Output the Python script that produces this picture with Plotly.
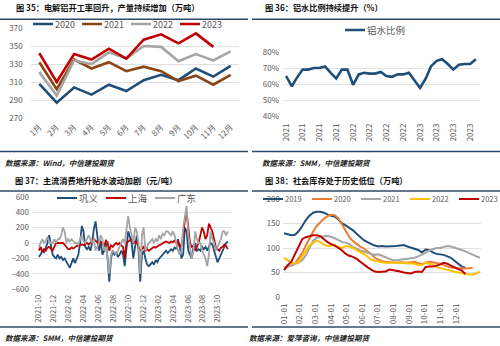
import plotly.graph_objects as go
import pandas as pd

W, H = 500, 346
FONT = "Noto Sans CJK SC"
TICK = "#595959"
GRID = "#D9D9D9"
RULE = "#2E4A6B"

# ---------------- 图35 data ----------------
MONTHS = ["1月", "2月", "3月", "4月", "5月", "6月", "7月", "8月", "9月", "10月", "11月", "12月"]
P35_2020 = [308, 287, 304, 296, 307, 300, 312, 318, 312, 325, 316, 328]
P35_2021 = [332, 302, 335, 325, 332, 322, 327, 322, 311, 317, 307, 318]
P35_2022 = [321, 295, 334, 330, 343, 336, 350, 349, 333, 341, 334, 344]
P35_2023 = [342, 310, 341, 335, 347, 336, 357, 363, 353, 364, 349]

# ---------------- 图36 data ----------------
P36_START = "2021-01-01"
P36_RATIO = [65, 58.5, 64, 69, 69, 70, 70, 71, 67, 63.5, 69, 69,
             59.5, 66, 67, 66.5, 66.5, 67.5, 65, 64.5, 66, 66, 67, 62.5,
             57.5, 63.5, 71, 74.5, 75.5, 72.5, 69, 72, 72.5, 72.5, 75.5]

# ---------------- 图37 data (weekly) ----------------
P37_START = "2021-10-01"
P37_GY = [-180, -150, -100, -120, -60, 0, 100, -50, -150, -180, -200, -150, -200, -180, -220, -200,
          -250, -280, -320, -250, -200, -260, -200, -150, 0, 220, 150, -50, -80, -50, -100, 0,
          180, 280, 100, -100, 20, -150, -100, 0, -200, -500, -200, -100, -150, -120, -180, -150,
          -100, -150, -300, -100, 150, 80, 0, -200, -50, 100, -100, -500, -150, -100, -200, -280,
          -300, -280, -250, -280, -220, -250, -200, -180, -150, -120, -100, -130, -100, -80, -100, -60,
          -80, 50, -50, -200, -150, 200, 150, -100, -150, -200, -50, 0, -100, -80, -100, -50,
          -80, -50, -100, -50, 0, -20, -100, -200, -250, -200, -150, -100, -50, 0, 20]
P37_SH = [-100, -50, -120, -80, -100, -60, -50, -80, -100, -50, 0, 0, 0, 0, 0, -20,
          -50, -80, -80, -60, -70, -50, -40, -30, -20, -20, -30, -20, 0, -20, 0, 20,
          50, 30, 0, -20, 20, 0, -50, 30, 10, -100, -30, -50, -20, 0, -20, 0,
          -30, -50, -200, 0, 20, 40, 50, 0, 20, 10, -50, -100, -80, -50, -100, -80,
          -100, -80, -70, -50, -60, -40, -30, -20, 0, 10, 20, 10, 0, 20, 10, 30,
          0, 20, -50, -20, 100, 300, 400, 200, 0, -50, -30, -100, -50, 0, 100, 200,
          150, 50, 100, 250, 200, 150, 50, -50, -80, -100, -60, -50, -20, -40, -80]
P37_GD = [-50, 0, 50, 0, 30, 80, 20, 0, 0, 50, 0, 50, 50, 100, 200, 150,
          0, 50, 20, 50, 20, 0, 0, -20, 50, 100, 20, 0, 50, 100, 50, 0,
          50, -100, -50, 0, 100, 50, -100, -50, -200, -400, -150, -100, -120, -150, -100, -50,
          0, 50, 0, 200, 350, 200, 100, 0, 200, 150, 0, -400, 100, 200, -100, -50,
          0, 20, 50, 0, 50, 20, 100, 50, 120, 100, 150, 150, 120, 100, 150, 100,
          0, -100, -150, -100, 200, 350, 480, 100, -50, -200, -100, 150, 50, 0, 0, -100,
          -150, -200, -300, -150, 150, 50, 0, -100, -50, 0, 50, 150, 150, 100, 150]

# ---------------- 图38 data (weekly, by week of year) ----------------
MD_LABELS = ["01-01", "02-01", "03-01", "04-01", "05-01", "06-01",
             "07-01", "08-01", "09-01", "10-01", "11-01", "12-01"]
WEEKS_PER_MONTH = 4.31
P38_2019 = [130, 128, 126, 127, 134, 145, 157, 166, 172, 174, 174, 172, 168, 166, 164, 158,
            150, 146, 141, 136, 129, 123, 116, 112, 108, 105, 103, 104, 103, 103, 104, 104,
            105, 106, 103, 101, 99, 96, 91, 97, 96, 91, 88, 87, 86, 83, 80, 74, 67, 62, 60]
P38_2020 = [60, 62, 64, 68, 78, 90, 105, 120, 133, 145, 153, 160, 165, 168, 167, 160,
            148, 135, 122, 114, 108, 103, 99, 94, 88, 80, 76, 73, 72, 71, 70, 70,
            71, 70, 70, 71, 72, 69, 67, 70, 72, 71, 70, 68, 65, 62, 60, 59, 58, 58, 58, 59, 59]
P38_2021 = [60, 62, 64, 67, 70, 75, 85, 100, 115, 121, 123, 124, 125, 123, 120, 116,
            112, 111, 108, 102, 98, 95, 93, 91, 88, 86, 87, 84, 80, 77, 75, 75,
            76, 76, 77, 78, 80, 83, 86, 90, 95, 98, 100, 100, 102, 104, 103, 101,
            99, 96, 93, 90, 87, 83, 80]
P38_2022 = [80, 75, 70, 68, 72, 82, 95, 105, 110, 115, 112, 107, 104, 105, 106, 102,
            100, 104, 103, 100, 95, 92, 88, 82, 76, 74, 72, 71, 70, 70, 70, 70,
            71, 70, 69, 68, 68, 65, 66, 70, 68, 66, 61, 59, 57, 55, 53, 51, 50, 49,
            47, 46, 46, 48, 51]
P38_2023 = [55, 65, 72, 88, 105, 118, 122, 124, 126, 126, 124, 118, 112, 108, 105, 100,
            95, 88, 84, 82, 78, 72, 66, 61, 56, 52, 51, 52, 52, 56, 55, 54,
            52, 50, 49, 48, 51, 52, 51, 61, 62, 62, 64, 66, 70, 68, 64, 61, 58, 54, 47]


def xdom(a, b):
    return [a / W, b / W]


def ydom(top, bottom):
    return [1 - bottom / H, 1 - top / H]


fig = go.Figure()

# ---- 图35 traces
for name, vals, col in [("2020", P35_2020, "#1F4E79"), ("2021", P35_2021, "#8B4513"),
                        ("2022", P35_2022, "#A5A5A5"), ("2023", P35_2023, "#C00000")]:
    fig.add_trace(go.Scatter(x=MONTHS[:len(vals)], y=vals, name=name, mode="lines",
                             line=dict(color=col, width=2.6), xaxis="x", yaxis="y",
                             legend="legend"))

# ---- 图36 trace
d36 = pd.date_range(P36_START, periods=len(P36_RATIO), freq="MS")
fig.add_trace(go.Scatter(x=d36, y=P36_RATIO, name="铝水比例", mode="lines",
                         line=dict(color="#1F4E79", width=2.6), xaxis="x2", yaxis="y2",
                         legend="legend2"))

# ---- 图37 traces
d37 = pd.date_range(P37_START, periods=len(P37_GY), freq="7D")
for name, vals, col in [("巩义", P37_GY, "#1F4E79"), ("上海", P37_SH, "#C00000"),
                        ("广东", P37_GD, "#A5A5A5")]:
    fig.add_trace(go.Scatter(x=d37[:len(vals)], y=vals, name=name, mode="lines",
                             line=dict(color=col, width=1.8), xaxis="x3", yaxis="y3",
                             legend="legend3"))

# ---- 图38 traces
for name, vals, col in [("2019", P38_2019, "#1F4E79"), ("2020", P38_2020, "#ED7D31"),
                        ("2021", P38_2021, "#A5A5A5"), ("2022", P38_2022, "#FFC000"),
                        ("2023", P38_2023, "#C00000")]:
    fig.add_trace(go.Scatter(x=list(range(len(vals))), y=vals, name=name, mode="lines",
                             line=dict(color=col, width=2), xaxis="x4", yaxis="y4",
                             legend="legend4"))

tickfont = dict(family=FONT, size=8, color=TICK)
common_x = dict(showgrid=False, zeroline=False, showline=False, ticks="", tickfont=tickfont,
                fixedrange=True, automargin=False)
common_y = dict(showgrid=True, gridcolor=GRID, gridwidth=0.8, zeroline=False, showline=False,
                ticks="", tickfont=tickfont, fixedrange=True, automargin=False)

leg_common = dict(orientation="h", bgcolor="rgba(0,0,0,0)", borderwidth=0,
                  xanchor="left", yanchor="middle", itemwidth=30, traceorder="normal")

# legend x = (line-sample start in px) - 18, since the sample is drawn 18px into each entry
fig.update_layout(
    width=W, height=H, margin=dict(l=0, r=0, t=0, b=0, pad=0, autoexpand=False),
    paper_bgcolor="white", plot_bgcolor="white",
    font=dict(family=FONT, color=TICK),
    xaxis=dict(common_x, domain=xdom(30.6, 239.4), anchor="y", type="category",
               categoryorder="array", categoryarray=MONTHS,
               range=[-0.5, 11.5], tickangle=-45, ticklabelstandoff=2),
    yaxis=dict(common_y, domain=ydom(28, 118), anchor="x", range=[270, 370], dtick=20,
               tick0=270, ticklabelstandoff=7),
    xaxis2=dict(common_x, domain=xdom(283, 479), anchor="y2", type="date",
                range=["2020-12-15", "2023-11-18"], dtick="M3", tick0="2021-01-01",
                tickformat="%Y", tickangle=-90, ticklabelstandoff=5),
    yaxis2=dict(common_y, domain=ydom(52, 116), anchor="x2", range=[40, 80], dtick=10,
                ticksuffix="%", ticklabelstandoff=3),
    xaxis3=dict(common_x, domain=xdom(32, 232), anchor="y3", type="date",
                range=["2021-09-03", "2023-11-27"], dtick="M2", tick0="2021-10-01",
                tickformat="%Y-%m", tickangle=-90, ticklabelstandoff=3,
                tickfont=dict(family=FONT, size=7.5, color=TICK)),
    yaxis3=dict(common_y, domain=ydom(196.7, 289.3), anchor="x3", range=[-600, 600], dtick=200,
                ticklabelstandoff=2),
    xaxis4=dict(common_x, domain=xdom(283, 481), anchor="y4", range=[-0.3, 54.3],
                tickvals=[i * WEEKS_PER_MONTH for i in range(len(MD_LABELS))],
                ticktext=MD_LABELS, tickangle=-90, ticklabelstandoff=4),
    yaxis4=dict(common_y, domain=ydom(199, 297), anchor="x4", range=[0, 200], dtick=50,
                ticklabelstandoff=2),
    legend=dict(leg_common, x=15 / W, y=1 - 24 / H, font=dict(family=FONT, size=9, color=TICK)),
    legend2=dict(leg_common, x=327 / W, y=1 - 30 / H, font=dict(family=FONT, size=9.5, color=TICK)),
    legend3=dict(leg_common, x=39 / W, y=1 - 198 / H, font=dict(family=FONT, size=9.5, color=TICK)),
    legend4=dict(leg_common, x=245 / W, y=1 - 199 / H, font=dict(family=FONT, size=7.5, color=TICK)),
    showlegend=True,
)

# ---- titles, sources and rules
titles = [
    ("图 35：电解铝开工率回升，产量持续增加（万吨）", 14, 7),
    ("图 36：铝水比例持续提升（%）", 263, 7),
    ("图 37：主流消费地升贴水波动加剧（元/吨）", 13, 180),
    ("图 38：社会库存处于历史低位（万吨）", 263, 180),
]
for txt, x, y in titles:
    fig.add_annotation(text="<b>" + txt + "</b>", x=x / W, y=1 - y / H, xref="paper", yref="paper",
                       xanchor="left", yanchor="middle", showarrow=False,
                       font=dict(family=FONT, size=8.2, color="#111111"))

sources = [
    ("数据来源：Wind，中信建投期货", 3, 162),
    ("数据来源：SMM，中信建投期货", 260, 162),
    ("数据来源：SMM，中信建投期货", 3, 337),
    ("数据来源：爱萍咨询，中信建投期货", 247, 337),
]
for txt, x, y in sources:
    fig.add_annotation(text="<b><i>" + txt + "</i></b>", x=x / W, y=1 - y / H, xref="paper",
                       yref="paper", xanchor="left", yanchor="middle", showarrow=False,
                       font=dict(family=FONT, size=7.5, color="#222222"))

for y in [19.3, 151.5, 191, 327]:
    for a, b in [(0, 248), (252, 500)]:
        fig.add_shape(type="line", xref="paper", yref="paper", x0=a / W, x1=b / W,
                      y0=1 - y / H, y1=1 - y / H, line=dict(color=RULE, width=1.5))

# Compact legend entries (short line sample right before the text, tight spacing).
post_js = """
var gd = document.getElementById('{plot_id}');
function fixLegends(){
  try {
    gd.querySelectorAll('g.infolayer > g').forEach(function(lg){
      var cls = lg.getAttribute('class') || '';
      if (cls.indexOf('legend') !== 0) return;
      var x = null;
      lg.querySelectorAll('g.traces').forEach(function(tr){
        var tf = tr.getAttribute('transform') || '';
        var m = /translate\\(\\s*([-0-9.e]+)[ ,]+([-0-9.e]+)\\s*\\)/.exec(tf);
        var y = m ? parseFloat(m[2]) : 0;
        if (x === null) { x = m ? parseFloat(m[1]) : 0; }
        var t = tr.querySelector('text.legendtext');
        var tx = 40, w = 20;
        if (t) { try { var bb = t.getBBox(); tx = bb.x; w = bb.width; } catch(e) {} }
        var ls = tx - 22;
        tr.setAttribute('transform', 'translate(' + (x - (ls - 18)) + ',' + y + ')');
        tr.querySelectorAll('.legendlines path').forEach(function(p){ p.setAttribute('d', 'M' + ls + ',0h20'); });
        x += 22 + w + 7;
      });
    });
  } catch (err) {}
}
fixLegends();
setInterval(fixLegends, 60);
if (gd.on) { gd.on('plotly_afterplot', function(){ setTimeout(fixLegends, 0); }); }
"""

fig.write_html("out.html", post_script=post_js, config={"responsive": False, "staticPlot": True})
